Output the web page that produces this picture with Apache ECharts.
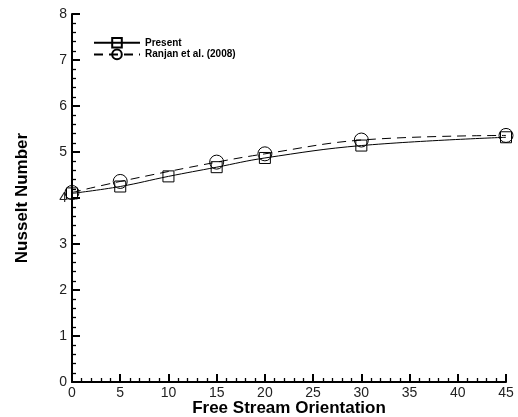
<!DOCTYPE html>
<html><head><meta charset="utf-8">
<script src="https://cdn.jsdelivr.net/npm/echarts@6/dist/echarts.min.js"></script>
<style>html,body{margin:0;padding:0;background:#fff}#c{width:518px;height:417px}</style>
</head><body><div id="c"></div>
<script>
const presentX = [0, 5, 10, 15, 20, 30, 45];
const presentY = [4.10, 4.25, 4.47, 4.67, 4.87, 5.14, 5.32];
const ranjanX = [0, 5, 15, 20, 30, 45];
const ranjanY = [4.12, 4.36, 4.78, 4.96, 5.26, 5.36];
const seriesNames = ['Present', 'Ranjan et al. (2008)'];

const chart = echarts.init(document.getElementById('c'));
const font = 'Liberation Sans, Arial, sans-serif';
chart.setOption({
  animation: false,
  grid: {left: 72, right: 12, top: 14, bottom: 35, outerBoundsMode: 'none', containLabel: false},
  legend: {
    orient: 'vertical', left: 88, top: 32, itemGap: 0,
    itemWidth: 46, itemHeight: 12,
    textStyle: {fontFamily: font, fontSize: 10, fontWeight: 'bold', color: '#000'},
    data: seriesNames
  },
  xAxis: {
    type: 'value', min: 0, max: 45, interval: 5,
    name: 'Free Stream Orientation', nameLocation: 'middle', nameGap: 18, nameMoveOverlap: false,
    nameTextStyle: {fontFamily: font, fontSize: 17, fontWeight: 'bold', color: '#000'},
    axisLine: {onZero: false, lineStyle: {color: '#000', width: 2}},
    axisTick: {inside: true, length: 8, lineStyle: {color: '#000', width: 2}},
    minorTick: {show: true, splitNumber: 5, length: 4, lineStyle: {color: '#000', width: 1.3}},
    axisLabel: {fontFamily: font, fontSize: 14, color: '#222', margin: 4},
    splitLine: {show: false}
  },
  yAxis: {
    type: 'value', min: 0, max: 8, interval: 1,
    name: 'Nusselt Number', nameLocation: 'middle', nameGap: 41, nameMoveOverlap: false,
    nameTextStyle: {fontFamily: font, fontSize: 17, fontWeight: 'bold', color: '#000'},
    axisLine: {onZero: false, lineStyle: {color: '#000', width: 2}},
    axisTick: {inside: true, length: 8, lineStyle: {color: '#000', width: 2}},
    minorTick: {show: true, splitNumber: 5, length: 4, lineStyle: {color: '#000', width: 1.3}},
    axisLabel: {fontFamily: font, fontSize: 14, color: '#222', margin: 5},
    splitLine: {show: false}
  },
  series: [
    {
      name: seriesNames[0], type: 'line', smooth: 0.4,
      data: presentX.map((x, i) => [x, presentY[i]]),
      symbol: 'rect', symbolSize: 11,
      itemStyle: {color: 'rgba(255,255,255,0)', borderColor: '#000', borderWidth: 1},
      lineStyle: {color: '#000', width: 1}
    },
    {
      name: seriesNames[1], type: 'line', smooth: 0.4,
      data: ranjanX.map((x, i) => [x, ranjanY[i]]),
      symbol: 'circle', symbolSize: 14,
      itemStyle: {color: 'rgba(255,255,255,0)', borderColor: '#000', borderWidth: 1},
      lineStyle: {color: '#000', width: 1, type: [9, 6]}
    }
  ]
});
</script></body></html>
